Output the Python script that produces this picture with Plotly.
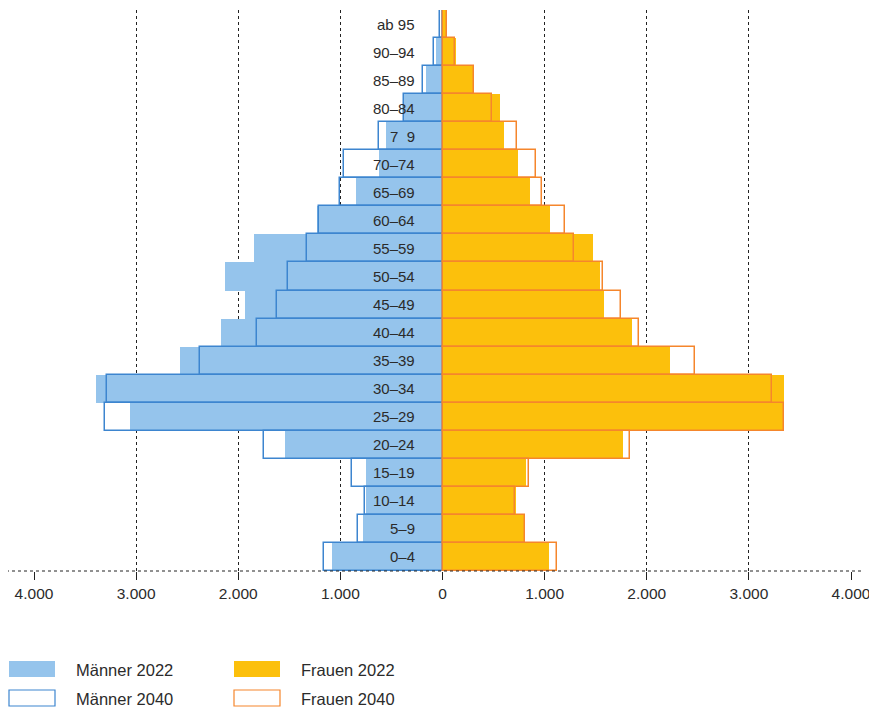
import plotly.graph_objects as go

ages = ["0–4", "5–9", "10–14", "15–19", "20–24", "25–29", "30–34", "35–39",
        "40–44", "45–49", "50–54", "55–59", "60–64", "65–69", "70–74", "7 \u00a09",
        "80–84", "85–89", "90–94", "ab 95"]

men_2022 = [1080, 775, 750, 745, 1545, 3060, 3395, 2570, 2170, 1935,
            2125, 1850, 1230, 850, 620, 550, 380, 160, 60, 15]
men_2040 = [1160, 825, 755, 885, 1745, 3305, 3290, 2375, 1815, 1620,
            1515, 1330, 1205, 1005, 965, 620, 375, 190, 80, 25]
women_2022 = [1045, 800, 715, 820, 1765, 3330, 3345, 2225, 1860, 1580,
              1540, 1475, 1055, 860, 735, 600, 565, 310, 135, 45]
women_2040 = [1120, 805, 710, 845, 1840, 3340, 3225, 2470, 1920, 1750,
              1570, 1290, 1195, 970, 920, 725, 480, 310, 125, 40]

tick_vals = [-4000, -3000, -2000, -1000, 0, 1000, 2000, 3000, 4000]
tick_text = ["4.000", "3.000", "2.000", "1.000", "0", "1.000", "2.000", "3.000", "4.000"]

legend_names = ["Männer 2022", "Männer 2040", "Frauen 2022", "Frauen 2040"]

C_M_FILL = "#95c4ec"
C_M_LINE = "#3d85cf"
C_F_FILL = "#fcc00c"
C_F_LINE = "#f5862c"
FONT = "Liberation Sans, Arial, sans-serif"
TXT = "#2b2b2b"

fig = go.Figure()
fig.add_trace(go.Bar(y=ages, x=[-v for v in men_2022], orientation="h",
                     marker=dict(color=C_M_FILL, line=dict(width=0)),
                     name=legend_names[0], hoverinfo="skip"))
fig.add_trace(go.Bar(y=ages, x=women_2022, orientation="h",
                     marker=dict(color=C_F_FILL, line=dict(width=0)),
                     name=legend_names[2], hoverinfo="skip"))
fig.add_trace(go.Bar(y=ages, x=[-v for v in men_2040], orientation="h",
                     marker=dict(color="rgba(0,0,0,0)", line=dict(color=C_M_LINE, width=1.5)),
                     name=legend_names[1], hoverinfo="skip"))
fig.add_trace(go.Bar(y=ages, x=women_2040, orientation="h",
                     marker=dict(color="rgba(0,0,0,0)", line=dict(color=C_F_LINE, width=1.5)),
                     name=legend_names[3], hoverinfo="skip"))

# age labels inside the chart, right-aligned left of the centre
for a in ages:
    fig.add_annotation(x=-245, y=a, xref="x", yref="y", text=a, showarrow=False,
                       xanchor="right", yanchor="middle",
                       font=dict(family=FONT, size=15, color=TXT))

# the page body adds an 8px offset; compensate so page positions match
OFF = 8
W, H = 877, 707
L, T = 34 - OFF, 10 - OFF
pw, ph = 817, 561
R = W - L - pw
B = H - T - ph


def px_x(X):
    return (X - OFF - L) / pw


def px_y(Y):
    return (T + ph - (Y - OFF)) / ph


# bottom dashed baseline
fig.add_shape(type="line", xref="paper", yref="paper",
              x0=px_x(0), x1=px_x(862), y0=0, y1=0,
              line=dict(color="#222", width=1, dash="3px,3px"), layer="above")

# custom legend
legend_items = [
    (legend_names[0], 9, 661, dict(fillcolor=C_M_FILL, line=dict(width=0))),
    (legend_names[1], 9, 690, dict(fillcolor="white", line=dict(color=C_M_LINE, width=1.2))),
    (legend_names[2], 234, 661, dict(fillcolor=C_F_FILL, line=dict(width=0))),
    (legend_names[3], 234, 690, dict(fillcolor="white", line=dict(color=C_F_LINE, width=1.2))),
]
for name, X0, Y0, style in legend_items:
    fig.add_shape(type="rect", xref="paper", yref="paper",
                  x0=px_x(X0), x1=px_x(X0 + 46), y0=px_y(Y0 + 16), y1=px_y(Y0), **style)
    fig.add_annotation(xref="paper", yref="paper", x=px_x(X0 + 65), y=px_y(Y0 + 8.5),
                       text=name, showarrow=False, xanchor="left", yanchor="middle",
                       font=dict(family=FONT, size=16.5, color=TXT))

fig.update_layout(
    width=W, height=H,
    margin=dict(l=L, r=R, t=T, b=B),
    barmode="overlay", bargap=0,
    showlegend=False,
    plot_bgcolor="white", paper_bgcolor="white",
    font=dict(family=FONT, color=TXT),
    separators=",.",
    xaxis=dict(range=[-4000, 4000], tickvals=tick_vals, ticktext=tick_text,
               showgrid=True, gridcolor="#222", gridwidth=1, griddash="3px,3px",
               zeroline=False, showline=False,
               ticks="outside", ticklen=8, tickcolor="#222", tickwidth=1,
               tickfont=dict(family=FONT, size=15.5, color=TXT)),
    yaxis=dict(range=[-0.5, 19.5], showticklabels=False, showgrid=False,
               zeroline=False, showline=False, ticks=""),
)

fig.write_html("out.html")
